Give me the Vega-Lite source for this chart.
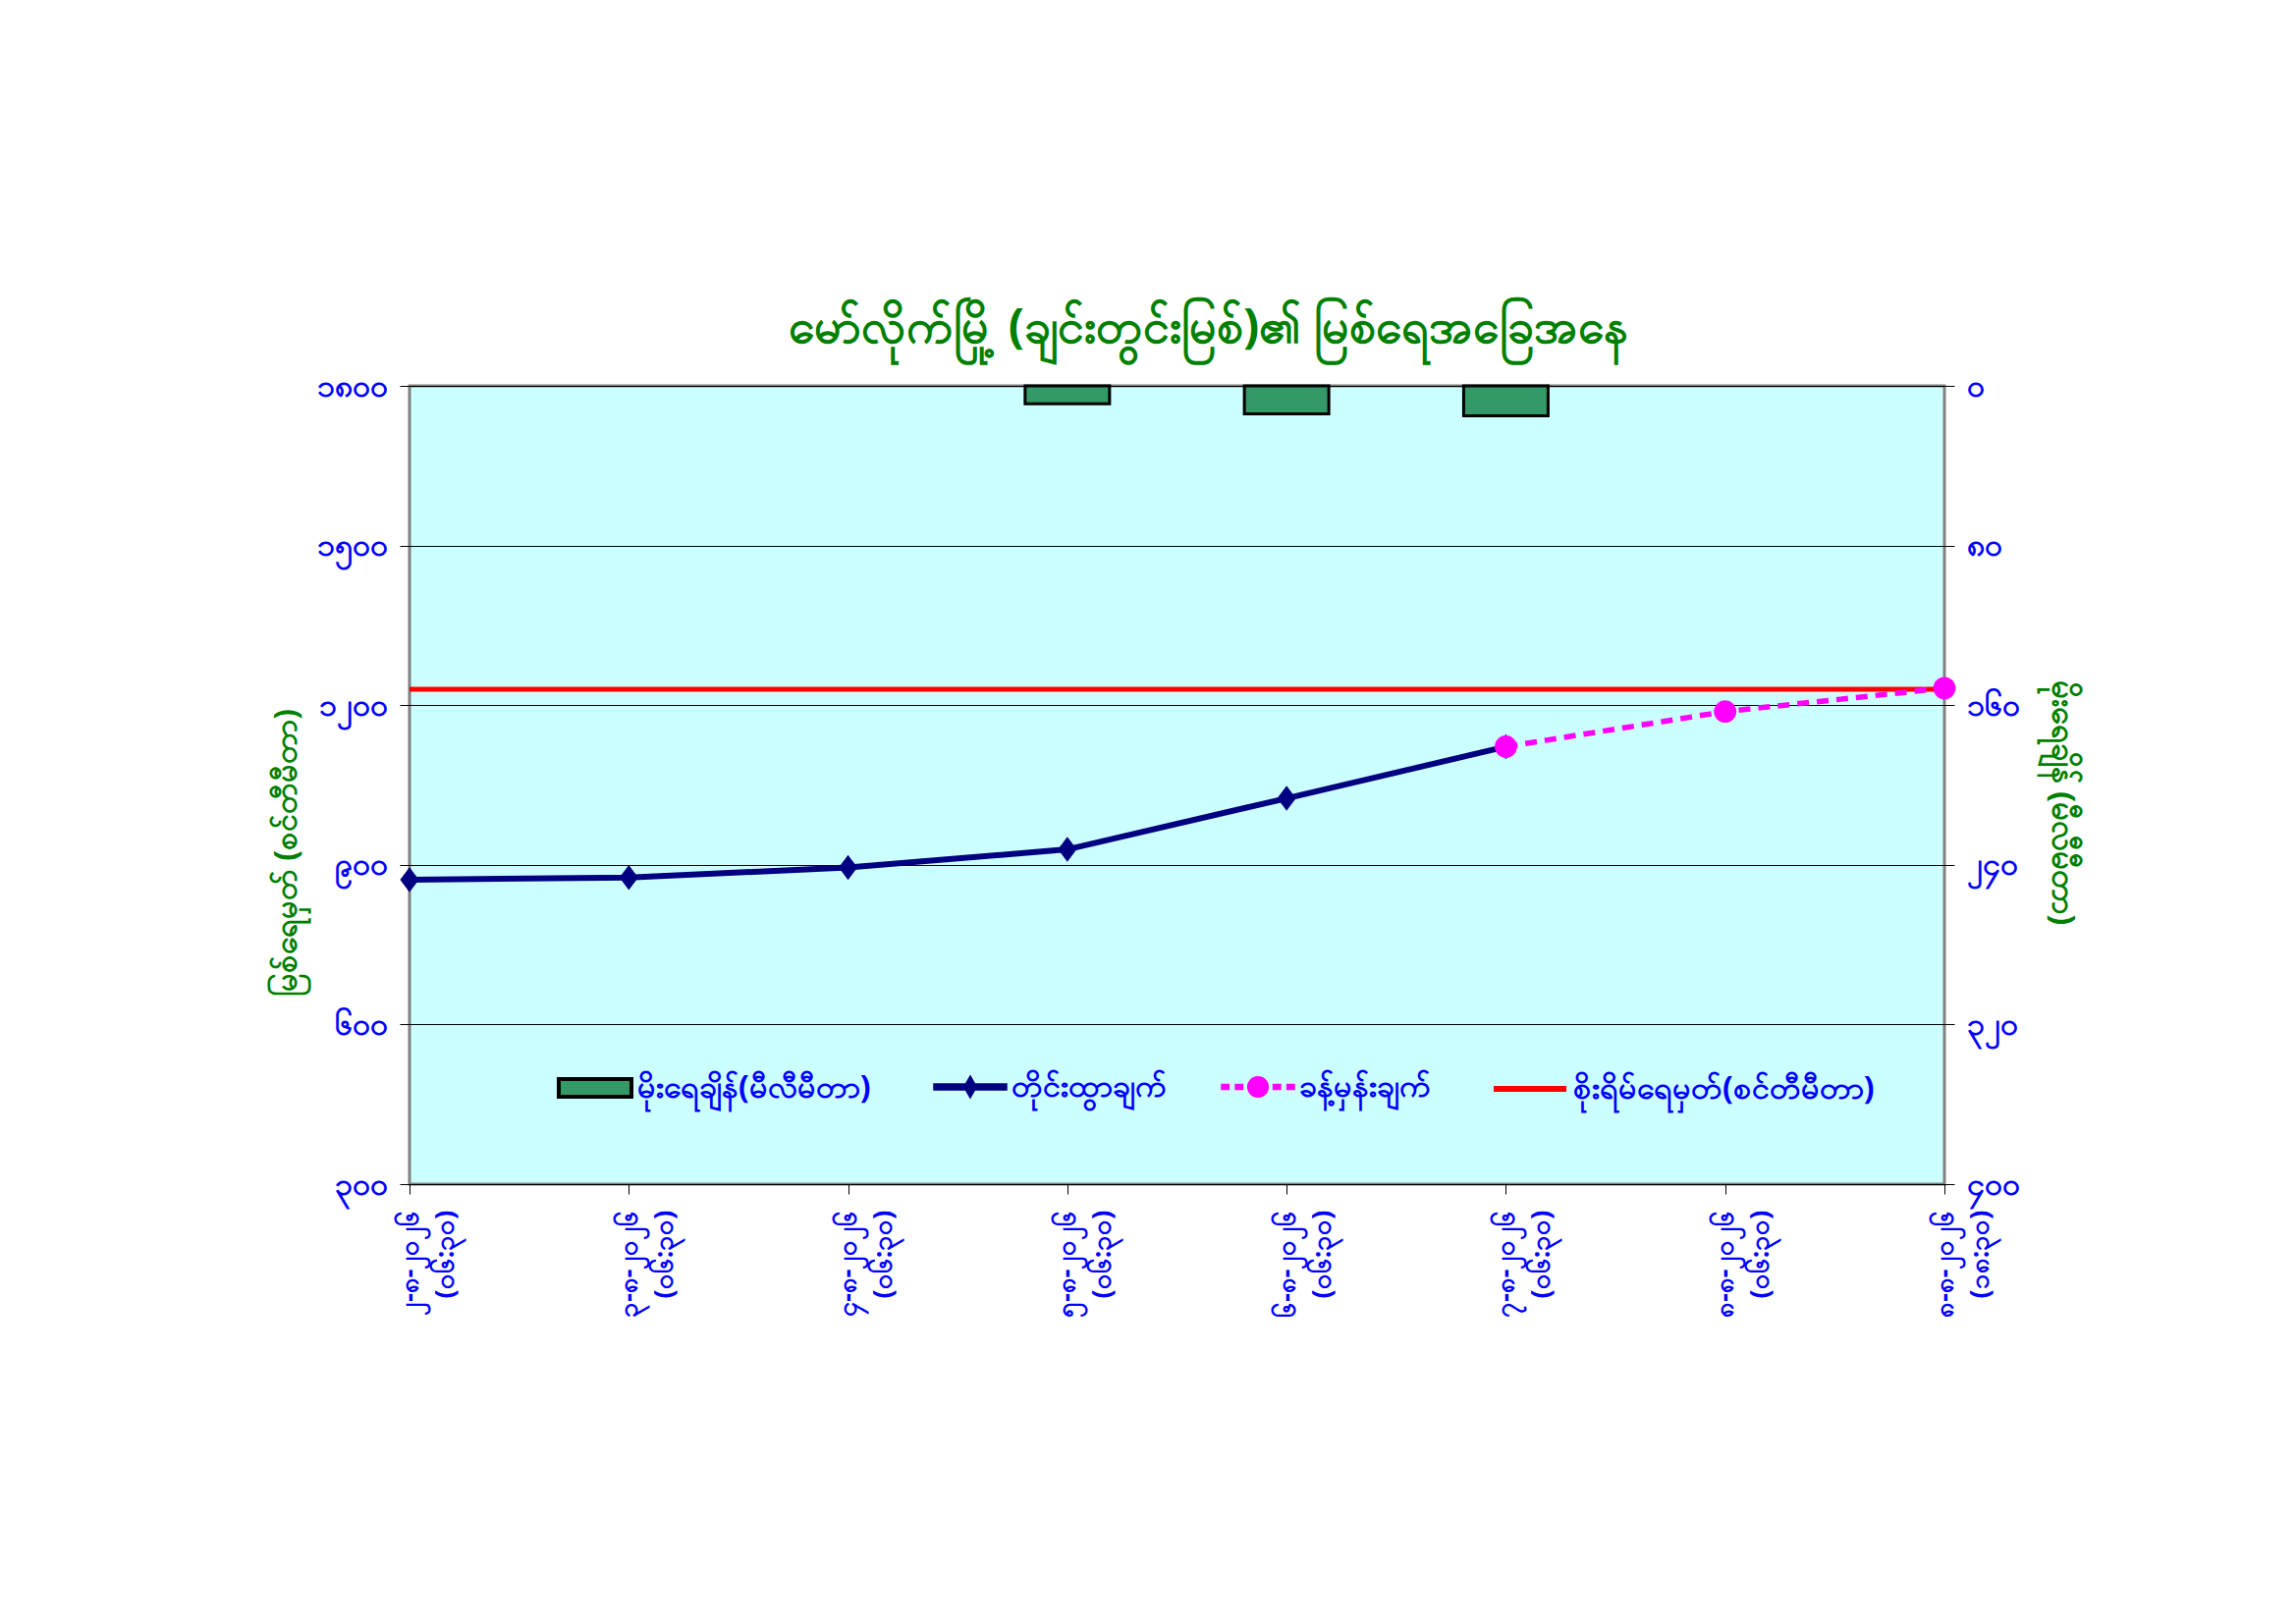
{
  "$schema": "https://vega.github.io/schema/vega-lite/v6.json",
  "width": 1563,
  "height": 813,
  "autosize": {"type": "none"},
  "padding": {"left": 417, "top": 393, "right": 358, "bottom": 448},
  "background": "white",
  "title": {
    "text": "မော်လိုက်မြို့ (ချင်းတွင်းမြစ်)၏ မြစ်ရေအခြေအနေ",
    "color": "#008000",
    "font": "Noto Sans",
    "fontSize": 48,
    "fontWeight": "bold",
    "offset": 18,
    "dx": 32
  },
  "datasets": {
    "level": [
      {"date": "၂-၈-၂၀၂၆ (၀၆:၃၀)", "series": "တိုင်းထွာချက်", "cm": 872},
      {"date": "၃-၈-၂၀၂၆ (၀၆:၃၀)", "series": "တိုင်းထွာချက်", "cm": 876},
      {"date": "၄-၈-၂၀၂၆ (၀၆:၃၀)", "series": "တိုင်းထွာချက်", "cm": 895},
      {"date": "၅-၈-၂၀၂၆ (၀၆:၃၀)", "series": "တိုင်းထွာချက်", "cm": 929},
      {"date": "၆-၈-၂၀၂၆ (၀၆:၃၀)", "series": "တိုင်းထွာချက်", "cm": 1025},
      {"date": "၇-၈-၂၀၂၆ (၀၆:၃၀)", "series": "တိုင်းထွာချက်", "cm": 1122}
    ],
    "forecast": [
      {"date": "၇-၈-၂၀၂၆ (၀၆:၃၀)", "series": "ခန့်မှန်းချက်", "cm": 1122},
      {"date": "၈-၈-၂၀၂၆ (၀၆:၃၀)", "series": "ခန့်မှန်းချက်", "cm": 1188},
      {"date": "၈-၈-၂၀၂၆ (၁၈:၃၀)", "series": "ခန့်မှန်းချက်", "cm": 1232}
    ],
    "danger": [
      {"date": "၂-၈-၂၀၂၆ (၀၆:၃၀)", "series": "စိုးရိမ်ရေမှတ်(စင်တီမီတာ)", "cm": 1230},
      {"date": "၃-၈-၂၀၂၆ (၀၆:၃၀)", "series": "စိုးရိမ်ရေမှတ်(စင်တီမီတာ)", "cm": 1230},
      {"date": "၄-၈-၂၀၂၆ (၀၆:၃၀)", "series": "စိုးရိမ်ရေမှတ်(စင်တီမီတာ)", "cm": 1230},
      {"date": "၅-၈-၂၀၂၆ (၀၆:၃၀)", "series": "စိုးရိမ်ရေမှတ်(စင်တီမီတာ)", "cm": 1230},
      {"date": "၆-၈-၂၀၂၆ (၀၆:၃၀)", "series": "စိုးရိမ်ရေမှတ်(စင်တီမီတာ)", "cm": 1230},
      {"date": "၇-၈-၂၀၂၆ (၀၆:၃၀)", "series": "စိုးရိမ်ရေမှတ်(စင်တီမီတာ)", "cm": 1230},
      {"date": "၈-၈-၂၀၂၆ (၀၆:၃၀)", "series": "စိုးရိမ်ရေမှတ်(စင်တီမီတာ)", "cm": 1230},
      {"date": "၈-၈-၂၀၂၆ (၁၈:၃၀)", "series": "စိုးရိမ်ရေမှတ်(စင်တီမီတာ)", "cm": 1230}
    ],
    "rain": [
      {"date": "၅-၈-၂၀၂၆ (၀၆:၃၀)", "series": "မိုးရေချိန်(မီလီမီတာ)", "mm": 9},
      {"date": "၆-၈-၂၀၂၆ (၀၆:၃၀)", "series": "မိုးရေချိန်(မီလီမီတာ)", "mm": 14},
      {"date": "၇-၈-၂၀၂၆ (၀၆:၃၀)", "series": "မိုးရေချိန်(မီလီမီတာ)", "mm": 15}
    ]
  },
  "encoding": {
    "x": {
      "field": "date",
      "type": "ordinal",
      "title": null,
      "scale": {
        "type": "point",
        "padding": 0,
        "domain": [
          "၂-၈-၂၀၂၆ (၀၆:၃၀)",
          "၃-၈-၂၀၂၆ (၀၆:၃၀)",
          "၄-၈-၂၀၂၆ (၀၆:၃၀)",
          "၅-၈-၂၀၂၆ (၀၆:၃၀)",
          "၆-၈-၂၀၂၆ (၀၆:၃၀)",
          "၇-၈-၂၀၂၆ (၀၆:၃၀)",
          "၈-၈-၂၀၂၆ (၀၆:၃၀)",
          "၈-၈-၂၀၂၆ (၁၈:၃၀)"
        ]
      },
      "axis": {
        "labelAngle": -90,
        "labelExpr": "split(datum.label, ' ')",
        "labelFontSize": 27,
        "labelLineHeight": 36,
        "labelPadding": 16,
        "grid": false
      }
    }
  },
  "layer": [
    {
      "data": {"name": "rain"},
      "mark": {"type": "bar", "width": 86, "stroke": "black", "strokeWidth": 3},
      "encoding": {
        "y": {
          "field": "mm",
          "type": "quantitative",
          "scale": {"domain": [0, 400], "reverse": true, "nice": false},
          "axis": {
            "orient": "right",
            "values": [0, 80, 160, 240, 320, 400],
            "format": "d",
            "grid": false,
            "labelPadding": 12,
            "labelExpr": "replace(replace(replace(replace(replace(replace(replace(replace(replace(replace(datum.label, regexp('0','g'), '၀'), regexp('1','g'), '၁'), regexp('2','g'), '၂'), regexp('3','g'), '၃'), regexp('4','g'), '၄'), regexp('5','g'), '၅'), regexp('6','g'), '၆'), regexp('7','g'), '၇'), regexp('8','g'), '၈'), regexp('9','g'), '၉')",
            "title": "မိုးရေချိန် (မီလီမီတာ)",
            "titleAngle": 90,
            "titleFontSize": 33,
            "titlePadding": 26,
            "titleY": 424
          }
        },
        "color": {
          "field": "series",
          "type": "nominal",
          "scale": {"range": ["#339966"]},
          "legend": {
            "title": null,
            "legendX": 150,
            "symbolType": "M-1,-0.24H1V0.24H-1Z",
            "symbolStrokeColor": "black",
            "symbolStrokeWidth": 4
          }
        }
      }
    },
    {
      "encoding": {
        "y": {
          "field": "cm",
          "type": "quantitative",
          "scale": {"domain": [300, 1800], "nice": false, "zero": false},
          "axis": {
            "orient": "left",
            "values": [300, 600, 900, 1200, 1500, 1800],
            "format": "d",
            "grid": true,
            "gridColor": "black",
            "gridWidth": 1,
            "labelPadding": 13,
            "labelExpr": "replace(replace(replace(replace(replace(replace(replace(replace(replace(replace(datum.label, regexp('0','g'), '၀'), regexp('1','g'), '၁'), regexp('2','g'), '၂'), regexp('3','g'), '၃'), regexp('4','g'), '၄'), regexp('5','g'), '၅'), regexp('6','g'), '၆'), regexp('7','g'), '၇'), regexp('8','g'), '၈'), regexp('9','g'), '၉')",
            "title": "မြစ်ရေမှတ် (စင်တီမီတာ)",
            "titleFontSize": 32,
            "titlePadding": 14,
            "titleY": 475
          }
        }
      },
      "layer": [
        {
          "data": {"name": "danger"},
          "mark": {"type": "line", "strokeWidth": 5},
          "encoding": {
            "color": {
              "field": "series",
              "type": "nominal",
              "scale": {"range": ["#FF0000"]},
              "legend": {
                "title": null,
                "legendX": 1101,
                "symbolType": "stroke",
                "symbolStrokeWidth": 6
              }
            }
          }
        },
        {
          "data": {"name": "level"},
          "encoding": {
            "color": {
              "field": "series",
              "type": "nominal",
              "scale": {"range": ["#000080"]},
              "legend": {
                "title": null,
                "legendX": 533,
                "symbolType": "M-1,-0.08H1V0.08H-1Z M0,-0.3L0.17,0L0,0.3L-0.17,0Z"
              }
            }
          },
          "layer": [
            {
              "mark": {"type": "point", "filled": true, "opacity": 1, "size": 650, "shape": "M0,-1L0.75,0L0,1L-0.75,0Z"}
            },
            {
              "mark": {"type": "line", "strokeWidth": 6}
            }
          ]
        },
        {
          "data": {"name": "forecast"},
          "encoding": {
            "color": {
              "field": "series",
              "type": "nominal",
              "scale": {"range": ["#FF00FF"]},
              "legend": {
                "title": null,
                "legendX": 826,
                "symbolType": "M-1,-0.07H-0.8V0.07H-1Z M-0.62,-0.07H-0.42V0.07H-0.62Z M0.42,-0.07H0.62V0.07H0.42Z M0.8,-0.07H1V0.07H0.8Z M-0.28,0A0.28,0.28 0 1,0 0.28,0A0.28,0.28 0 1,0 -0.28,0Z"
              }
            }
          },
          "layer": [
            {
              "mark": {"type": "line", "strokeWidth": 5.5, "strokeDash": [12, 8]}
            },
            {
              "mark": {"type": "point", "filled": true, "opacity": 1, "size": 520, "shape": "circle"}
            }
          ]
        }
      ],
      "resolve": {"scale": {"color": "independent"}}
    }
  ],
  "resolve": {"scale": {"y": "independent", "color": "independent"}},
  "config": {
    "font": "Noto Sans",
    "view": {"fill": "#CCFFFF", "stroke": "#808080", "strokeWidth": 3},
    "legend": {
      "orient": "none",
      "legendY": 676,
      "direction": "horizontal",
      "symbolSize": 5476,
      "symbolOpacity": 1,
      "labelOffset": 4,
      "labelFont": "Noto Sans",
      "labelFontSize": 32,
      "labelFontWeight": "bold",
      "labelColor": "#0000FF",
      "labelLimit": 500
    },
    "axis": {
      "domain": false,
      "tickColor": "black",
      "tickSize": 10,
      "labelFont": "Noto Sans",
      "labelFontSize": 32,
      "labelFontWeight": "bold",
      "labelColor": "#0000FF",
      "titleFont": "Noto Sans",
      "titleFontSize": 28,
      "titleFontWeight": "bold",
      "titleColor": "#008000"
    }
  }
}
